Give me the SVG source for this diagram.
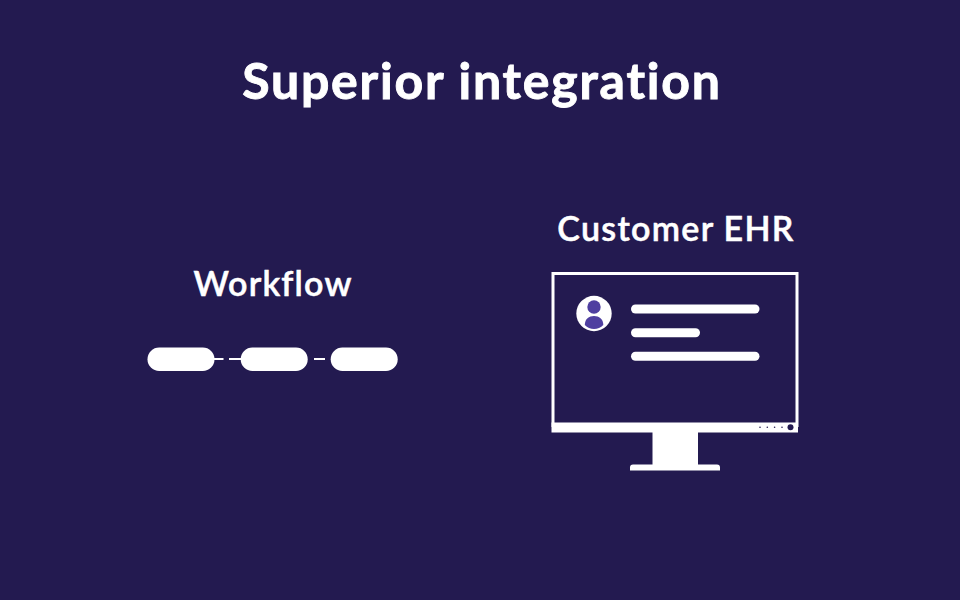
<svg xmlns="http://www.w3.org/2000/svg" width="960" height="600" viewBox="0 0 960 600">
<style>
text{font-family:"Lato","Liberation Sans",sans-serif;fill:#fff;stroke:#fff;text-anchor:middle;font-weight:700;font-variant-ligatures:none}
.t{font-size:50px;stroke-width:.9px}
.l{font-size:34px;font-weight:600;stroke-width:.5px}
.w{fill:#fff}
.d{fill:#231a50}
.p{fill:#4f3fa0}
</style>
<rect width="960" height="600" fill="#231a50"/>
<text id="title" class="t" x="482" y="99" letter-spacing="1.8">Superior integration</text>
<g id="workflow">
<text class="l" x="273" y="296" letter-spacing="1.200">Workflow</text>
<g id="connectors">
<rect class="w" x="214" y="358" width="9.500" height="2"/>
<rect class="w" x="229" y="358" width="12" height="2"/>
<rect class="w" x="314" y="358" width="11" height="2"/>
</g>
<g id="step1"><rect class="w" x="147.500" y="347.500" width="67" height="23.500" rx="11.700"/></g>
<g id="step2"><rect class="w" x="240.700" y="347.500" width="67" height="23.500" rx="11.700"/></g>
<g id="step3"><rect class="w" x="330.700" y="347.500" width="67" height="23.500" rx="11.700"/></g>
</g>
<g id="customer-ehr">
<text class="l" x="676" y="240.500" letter-spacing="1.300">Customer EHR</text>
<rect x="553" y="273.500" width="244" height="152" fill="none" stroke="#fff" stroke-width="3"/>
<rect class="w" x="551.500" y="422.500" width="246.500" height="10"/>
<rect class="w" x="652.500" y="432" width="45.500" height="33"/>
<path class="w" d="M630 470.500V467.500Q630 464.500 633 464.500H717Q720 464.500 720 467.500V470.500Z"/>
<circle class="d" cx="760" cy="427.300" r=".8"/>
<circle class="d" cx="767.300" cy="427.300" r=".8"/>
<circle class="d" cx="774.600" cy="427.300" r=".8"/>
<circle class="d" cx="782" cy="427.300" r=".8"/>
<circle class="d" cx="790.500" cy="427.300" r="3"/>
<circle class="w" cx="594" cy="313.500" r="17.700"/>
<circle class="p" cx="594" cy="307" r="6.700"/>
<path class="p" d="M584.800 325C584.800 319 589 316 594 316C599 316 603.300 319 603.300 325C600.800 327.800 597.500 329 594 329C590.500 329 587.300 327.800 584.800 325Z"/>
<rect class="w" x="631" y="304.500" width="128.500" height="9" rx="4.500"/>
<rect class="w" x="631" y="328.200" width="69" height="9" rx="4.500"/>
<rect class="w" x="631" y="351.700" width="128.500" height="9" rx="4.500"/>
</g>
</svg>
